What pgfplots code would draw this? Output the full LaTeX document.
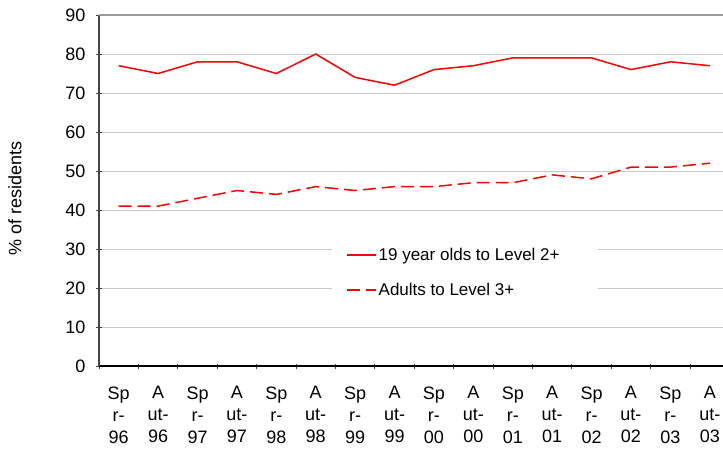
\documentclass[border=0pt]{standalone}
\usepackage{fontspec}
\setmainfont{Liberation Sans}
\usepackage{pgfplots}
\pgfplotsset{compat=1.18}
\usetikzlibrary{calc}
\definecolor{gridgray}{RGB}{200,200,200}
\definecolor{axisgray}{RGB}{70,70,70}
\begin{document}
\begin{tikzpicture}
\begin{axis}[
  scale only axis, width=630.5pt, height=351pt,
  xmin=-0.5, xmax=15.5, ymin=0, ymax=90,
  ytick={0,10,...,90},
  xtick={0,...,15},
  xticklabels={{Sp\\r-\\96},{A\\ut-\\96},{Sp\\r-\\97},{A\\ut-\\97},{Sp\\r-\\98},{A\\ut-\\98},{Sp\\r-\\99},{A\\ut-\\99},{Sp\\r-\\00},{A\\ut-\\00},{Sp\\r-\\01},{A\\ut-\\01},{Sp\\r-\\02},{A\\ut-\\02},{Sp\\r-\\03},{A\\ut-\\03}},
  minor xtick={-0.5,0.5,...,15.5},
  major x tick style={draw=none},
  minor x tick style={draw=axisgray, line width=0.9pt},
  minor tick length=5pt,
  major tick length=6pt,
  y tick style={draw=axisgray, line width=0.9pt},
  tick align=outside,
  axis lines=left,
  axis line style={-},
  x axis line style={draw=black, line width=1.2pt},
  y axis line style={draw=axisgray, line width=1.6pt},
  ymajorgrids,
  grid style={draw=gridgray, line width=0.9pt},
  font=\fontsize{18}{22.5}\selectfont,
  /pgf/number format/assume math mode=true,
  yticklabel style={font=\fontsize{18}{20}\selectfont, xshift=-7pt},
  xticklabel style={align=center, font=\fontsize{18}{22}\selectfont, yshift=-14pt},
  ylabel={\% of residents},
  ylabel style={at={(axis description cs:-0.1332,0.476)}, anchor=center, font=\fontsize{18}{20}\selectfont},
  legend style={at={(axis description cs:0.3695,0.359)}, anchor=north west, draw=none, fill=white,
    inner xsep=14pt, inner ysep=6pt, row sep=17pt, font=\fontsize{17}{20}\selectfont},
  legend cell align=left,
  legend image code/.code={\draw[#1] (0pt,0pt) -- (29pt,0pt);},
]
\coordinate (bl) at (rel axis cs:0,0);
\coordinate (tl) at (rel axis cs:0,1);
\coordinate (tr) at (rel axis cs:1,1);
\addplot[red, line width=1.5pt] coordinates {
(0,77) (1,75) (2,78) (3,78) (4,75) (5,80) (6,74) (7,72) (8,76) (9,77) (10,79) (11,79) (12,79) (13,76) (14,78) (15,77)};
\addlegendentry{19 year olds to Level 2+\hspace*{22pt}}
\addplot[red, line width=1.5pt, dash pattern=on 13pt off 6pt] coordinates {
(0,41) (1,41) (2,43) (3,45) (4,44) (5,46) (6,45) (7,46) (8,46) (9,47) (10,47) (11,49) (12,48) (13,51) (14,51) (15,52)};
\addlegendentry{Adults to Level 3+}
\end{axis}
\draw[gray!80, line width=1.2pt] (tl) -- (tr);
\pgfresetboundingbox
\path ($(bl)+(-99pt,-82pt)$) rectangle ($(bl)+(624pt,366pt)$);
\end{tikzpicture}
\end{document}
